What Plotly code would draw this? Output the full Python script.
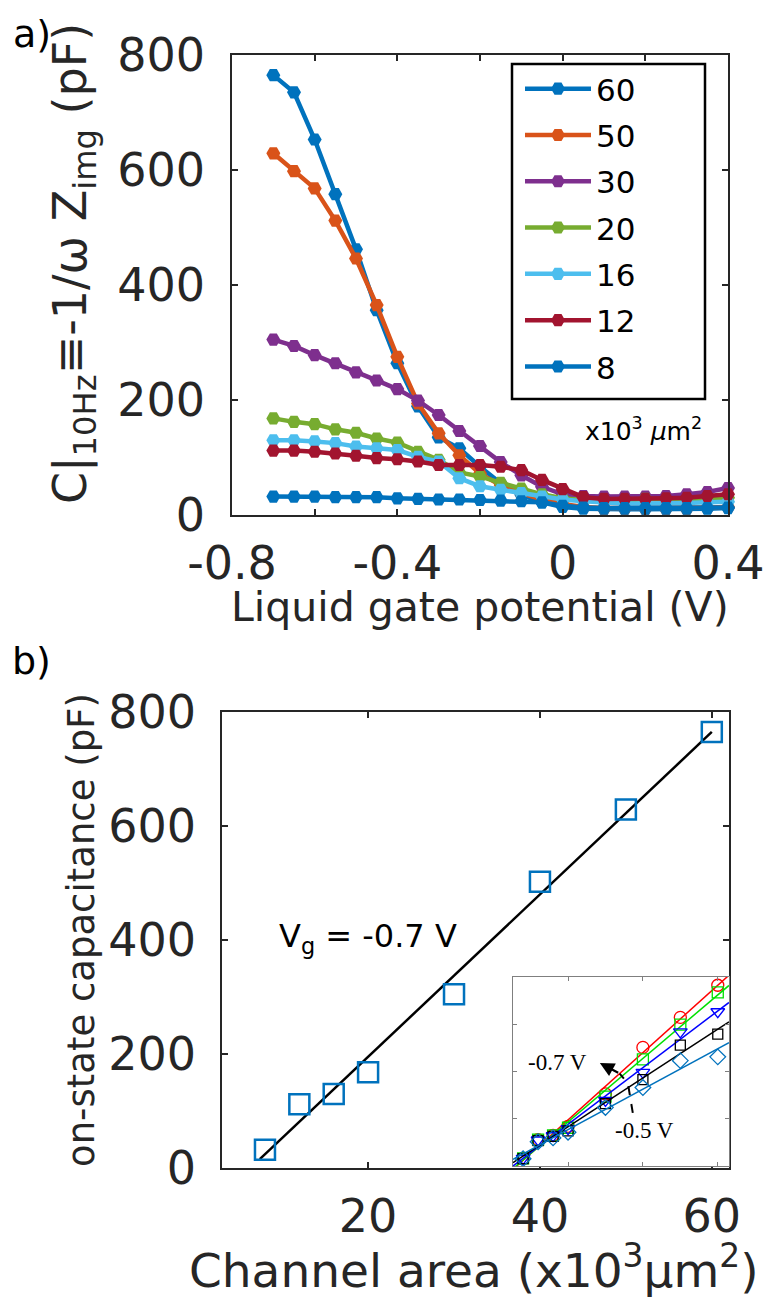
import numpy as np
import plotly.graph_objects as go

# ---------------- data ----------------
vg = [-0.7, -0.65, -0.6, -0.55, -0.5, -0.45, -0.4, -0.35, -0.3, -0.25, -0.2, -0.15,
      -0.1, -0.05, 0.0, 0.05, 0.1, 0.15, 0.2, 0.25, 0.3, 0.35, 0.4]
c60 = [765, 735, 653, 558, 462, 356, 264, 189, 135, 116, 84, 55, 35, 22, 14, 11, 10, 10, 10, 10, 10, 11, 12]
c50 = [629, 598, 568, 512, 446, 365, 275, 194, 142, 104, 72, 52, 38, 27, 19, 14, 12, 12, 12, 12, 12, 13, 14]
c30 = [305, 294, 278, 264, 248, 234, 219, 199, 174, 146, 120, 92, 69, 49, 36, 33, 32, 32, 32, 33, 36, 40, 47]
c20 = [168, 162, 158, 149, 143, 133, 126, 110, 96, 74, 67, 56, 46, 36, 29, 26, 25, 25, 28, 27, 27, 28, 30]
c16 = [130, 130, 128, 125, 119, 116, 113, 101, 93, 64, 50, 44, 38, 32, 27, 24, 22, 20, 20, 20, 21, 22, 23]
c12 = [112, 112, 110, 107, 103, 99, 97, 93, 87, 87, 87, 84, 78, 61, 45, 31, 28, 28, 28, 29, 30, 33, 36]
c8 = [32, 32, 32, 31, 31, 31, 29, 28, 27, 27, 26, 25, 24, 22, 16, 13, 12, 12, 12, 12, 12, 12, 13]
c40_low = [502, 451, 396, 366, 332]          # 40e3 um^2 device, Vg = -0.7 ... -0.5

series_names = ["60", "50", "30", "20", "16", "12", "8"]
series_vals = [c60, c50, c30, c20, c16, c12, c8]
series_colors = ["#0072BD", "#D95319", "#7E2F8E", "#77AC30", "#4DBEEE", "#A2142F", "#0072BD"]

areas = [8, 12, 16, 20, 30, 40, 50, 60]
by_area = {8: c8, 12: c12, 16: c16, 20: c20, 30: c30, 40: c40_low, 50: c50, 60: c60}
on_state = [by_area[a][0] for a in areas]

inset_labels = ["-0.7 V", "-0.65 V", "-0.6 V", "-0.55 V", "-0.5 V"]
inset_colors = ["#FF0000", "#00E000", "#0000FF", "#000000", "#0072BD"]
inset_symbols = ["circle-open", "square-open", "triangle-down-open", "square-open", "diamond-open"]
inset_sizes = [12, 11, 12, 10, 12]

W, H = 767, 1302
FONT = "DejaVu Sans, Verdana, sans-serif"
INK = "#262626"


def px(x):
    return x / W


def py(y):
    return 1 - y / H


fig = go.Figure()

# ---------------- panel a ----------------
for name, vals, col in zip(series_names, series_vals, series_colors):
    fig.add_trace(go.Scatter(
        x=vg, y=vals, name=name, mode="lines+markers", legendgroup=name,
        line=dict(color=col, width=4.5),
        marker=dict(symbol="hexagon2", size=14, color=col),
        cliponaxis=False, xaxis="x", yaxis="y"))

# ---------------- panel b ----------------
slope, icpt = np.polyfit(areas, on_state, 1)
fit_x = np.array([min(areas) - 0.6, max(areas)])
fig.add_trace(go.Scatter(x=fit_x, y=slope * fit_x + icpt, mode="lines",
                         line=dict(color="black", width=2.5), showlegend=False,
                         xaxis="x2", yaxis="y2"))
fig.add_trace(go.Scatter(x=areas, y=on_state, mode="markers", showlegend=False,
                         marker=dict(symbol="square-open", size=20, color="#0072BD",
                                     line=dict(width=2.5, color="#0072BD")),
                         cliponaxis=False, xaxis="x2", yaxis="y2"))

# ---------------- inset ----------------
xi = np.array([5.3, 63.0])
for k, (lab, col, sym, sz) in enumerate(zip(inset_labels, inset_colors, inset_symbols, inset_sizes)):
    vals = [by_area[a][k] for a in areas]
    s, b = np.polyfit(areas, vals, 1)
    fig.add_trace(go.Scatter(x=xi, y=s * xi + b, mode="lines", showlegend=False,
                             line=dict(color=col, width=1.5), xaxis="x3", yaxis="y3"))
    fig.add_trace(go.Scatter(x=areas, y=vals, mode="markers", showlegend=False,
                             marker=dict(symbol=sym, size=sz, color=col,
                                         line=dict(width=1.3, color=col)),
                             xaxis="x3", yaxis="y3"))

axis_common = dict(showline=True, linecolor=INK, linewidth=1.5, mirror="ticks",
                   ticks="inside", ticklen=6, tickcolor=INK, tickwidth=1.5,
                   showgrid=False, zeroline=False, automargin=False,
                   tickfont=dict(family=FONT, size=46, color=INK))

inset_axis = dict(showticklabels=False, showline=True, linecolor="#7f7f7f", linewidth=1,
                  mirror="ticks", ticks="inside", ticklen=4, tickcolor="#7f7f7f",
                  showgrid=False, zeroline=False, automargin=False)

fig.update_layout(
    width=W, height=H, margin=dict(l=0, r=0, t=0, b=0, autoexpand=False),
    paper_bgcolor="white", plot_bgcolor="white",
    font=dict(family=FONT, color=INK),
    xaxis=dict(domain=[px(232), px(728)], range=[-0.8, 0.4],
               tickvals=[-0.8, -0.4, 0, 0.4], ticktext=["-0.8", "-0.4", "0", "0.4"],
               minor=dict(dtick=0.2, tick0=0, ticks="inside", ticklen=6, tickcolor=INK, tickwidth=1.5),
               ticklabelstandoff=7, anchor="y", **axis_common),
    yaxis=dict(domain=[py(515), py(55)], range=[0, 800], tickvals=[0, 200, 400, 600, 800],
               ticklabelstandoff=16, anchor="x", **axis_common),
    xaxis2=dict(domain=[px(222), px(729)], range=[3, 62], tickvals=[20, 40, 60],
                ticklabelstandoff=7, anchor="y2", **axis_common),
    yaxis2=dict(domain=[py(1168), py(712)], range=[0, 800], tickvals=[0, 200, 400, 600, 800],
                ticklabelstandoff=15, anchor="x2", **axis_common),
    xaxis3=dict(domain=[px(513), px(729)], range=[5.3, 63], tickvals=[20, 40, 60],
                anchor="y3", **inset_axis),
    yaxis3=dict(domain=[py(1166), py(977)], range=[0, 800], tickvals=[0, 200, 400, 600, 800],
                anchor="x3", **inset_axis),
    legend=dict(x=px(520), y=py(62), xanchor="left", yanchor="top",
                bgcolor="rgba(0,0,0,0)", borderwidth=0, itemwidth=66,
                traceorder="grouped", tracegroupgap=3,
                font=dict(family=FONT, size=31, color="black")),
    showlegend=True,
)

# legend frame
fig.add_shape(type="rect", xref="paper", yref="paper",
              x0=px(512), x1=px(705), y0=py(399), y1=py(64),
              line=dict(color="black", width=2.5), fillcolor="rgba(0,0,0,0)", layer="below")

# dashed arrow in inset
fig.add_shape(type="path", xref="x3", yref="y3",
              path="M 37.3,225 L 36.0,349 L 33.8,391",
              line=dict(color="black", width=2, dash="dash"))

ann = [
    dict(text="a)", x=px(32), y=py(34), font=dict(size=38, color="black")),
    dict(text="b)", x=px(31), y=py(661), font=dict(size=38, color="black")),
    dict(text="C|<sub>10Hz</sub>\u2261-1/\u03c9 Z<sub>img</sub> (pF)", x=px(73), y=py(264),
         textangle=-90, font=dict(size=46, color=INK)),
    dict(text="Liquid gate potential (V)", x=px(480), y=py(607), font=dict(size=41, color=INK)),
    dict(text="x10<sup>3</sup> <i>\u03bc</i>m<sup>2</sup>", x=px(643), y=py(430),
         font=dict(size=25, color="black")),
    dict(text="on-state capacitance (pF)", x=px(81), y=py(930), textangle=-90,
         font=dict(size=37, color=INK)),
    dict(text="V<sub>g</sub> = -0.7 V", x=px(368), y=py(938),
         font=dict(size=32, color="black")),
]
for a in ann:
    a.update(xref="paper", yref="paper", showarrow=False, xanchor="center", yanchor="middle")
    a["font"]["family"] = FONT
    fig.add_annotation(**a)

fig.add_annotation(text="Channel area (x10<sup>3</sup>\u03bcm<sup>2</sup>)", x=px(474), y=py(1300),
                   xref="paper", yref="paper", showarrow=False, xanchor="center", yanchor="bottom",
                   font=dict(family=FONT, size=47, color=INK))

SERIF = "Liberation Serif, Times New Roman, serif"
fig.add_annotation(text="-0.7 V", x=17.3, y=438, xref="x3", yref="y3", showarrow=False,
                   font=dict(family=SERIF, size=23, color="black"))
fig.add_annotation(text="-0.5 V", x=40.5, y=149, xref="x3", yref="y3", showarrow=False,
                   font=dict(family=SERIF, size=23, color="black"))
fig.add_annotation(text="", x=28.5, y=436, ax=33.8, ay=391, xref="x3", yref="y3",
                   axref="x3", ayref="y3", showarrow=True, arrowhead=2, arrowsize=1.3,
                   arrowwidth=2.2, arrowcolor="black")

fig.write_html("out.html", config={"displayModeBar": False},
               post_script="document.body.style.margin='0px';document.body.style.overflow='hidden';")
